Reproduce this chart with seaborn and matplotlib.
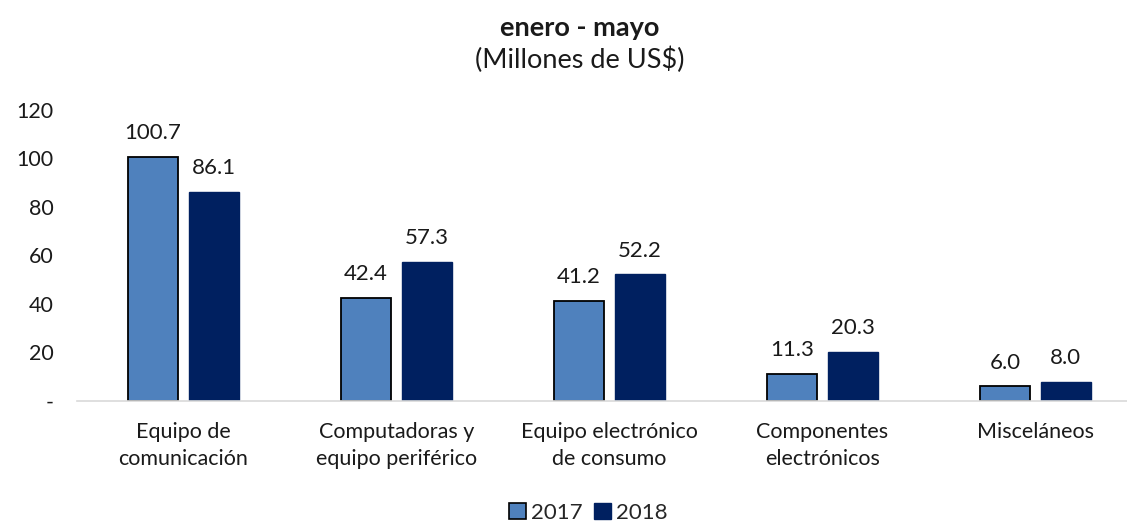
import matplotlib
matplotlib.use("Agg")
import matplotlib.pyplot as plt
from matplotlib.patches import Patch
import seaborn as sns
import pandas as pd

# datos del gráfico
categorias = ["Equipo de\ncomunicación", "Computadoras y\nequipo periférico",
              "Equipo electrónico\nde consumo", "Componentes\nelectrónicos", "Misceláneos"]
valores_2017 = [100.7, 42.4, 41.2, 11.3, 6.0]
valores_2018 = [86.1, 57.3, 52.2, 20.3, 8.0]
anios = ["2017", "2018"]
y_ticks = [0, 20, 40, 60, 80, 100, 120]
y_tick_labels = ["-", "20", "40", "60", "80", "100", "120"]

colores = {"2017": "#4F81BD", "2018": "#002060"}

df = pd.DataFrame({
    "categoria": categorias * 2,
    "anio": [anios[0]] * len(categorias) + [anios[1]] * len(categorias),
    "valor": valores_2017 + valores_2018,
})

sns.set_theme(style="white")
plt.rcParams["font.family"] = ["Lato", "DejaVu Sans"]

fig = plt.figure(figsize=(11.27, 5.23), dpi=100)
ax = fig.add_axes([0.0683, 0.2333, 0.945, 0.5564])

sns.barplot(data=df, x="categoria", y="valor", hue="anio", palette=colores,
            saturation=1, width=0.57, gap=0.18, ax=ax, legend=False)

# bordes: negro para 2017, mismo color para 2018
for cont, anio in zip(ax.containers, anios):
    for bar in cont:
        if anio == "2017":
            bar.set_edgecolor("black")
            bar.set_linewidth(1.3)
        else:
            bar.set_edgecolor(colores[anio])
            bar.set_linewidth(1.0)
    ax.bar_label(cont, labels=[f"{v:.1f}" for v in cont.datavalues],
                 padding=10, fontsize=16, color="#1a1a1a")

ax.set_xlim(-0.5, 4.5)
ax.set_ylim(0, 120)
ax.set_yticks(y_ticks)
ax.set_yticklabels(y_tick_labels)
ax.tick_params(axis="y", length=0, pad=17, labelsize=15.5, labelcolor="#1a1a1a")
ax.tick_params(axis="x", length=0, pad=15, labelsize=15.5, labelcolor="#1a1a1a")
for lbl in ax.get_xticklabels():
    lbl.set_linespacing(1.45)
ax.set_xlabel("")
ax.set_ylabel("")

for s in ["top", "right", "left"]:
    ax.spines[s].set_visible(False)
ax.spines["bottom"].set_color("#D9D9D9")
ax.spines["bottom"].set_linewidth(1.2)

fig.text(0.514, 0.947, "enero - mayo", ha="center", va="center",
         fontsize=19.5, fontweight="bold", color="#1a1a1a")
fig.text(0.514, 0.886, "(Millones de US$)", ha="center", va="center",
         fontsize=19.5, color="#1a1a1a")

handles = [Patch(facecolor=colores["2017"], edgecolor="black", linewidth=1.2, label="2017"),
           Patch(facecolor=colores["2018"], edgecolor=colores["2018"], label="2018")]
fig.legend(handles=handles, loc="center", bbox_to_anchor=(0.522, 0.02), ncol=2,
           frameon=False, fontsize=16, handlelength=0.75, handleheight=0.75,
           handletextpad=0.2, columnspacing=0.55)

fig.savefig("out.png", dpi=100)
